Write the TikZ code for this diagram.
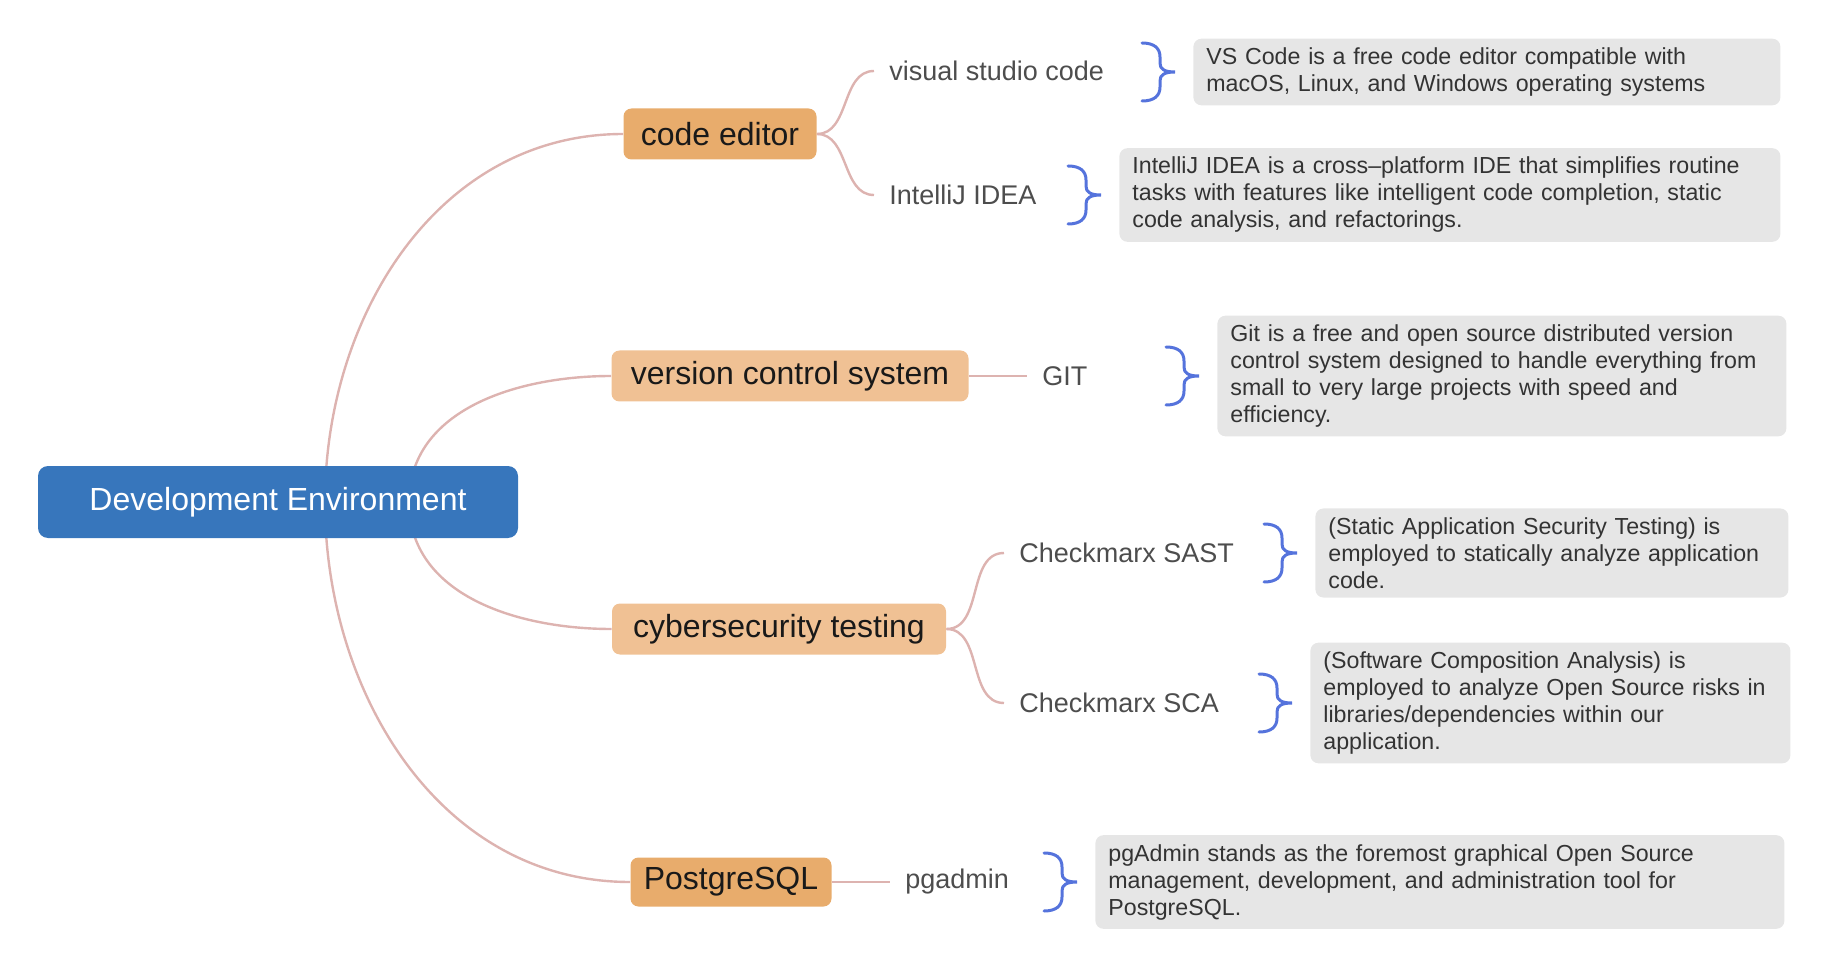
\documentclass[tikz,border=0pt]{standalone}
\usepackage{fontspec}
\setmainfont{Liberation Sans}
\usetikzlibrary{positioning,backgrounds}

\definecolor{rootblue}{HTML}{3776BC}
\definecolor{darkorange}{HTML}{E8AC6C}
\definecolor{lightorange}{HTML}{F0C194}
\definecolor{linkpink}{HTML}{DDB3B0}
\definecolor{curlyblue}{HTML}{5573DC}
\definecolor{notegray}{HTML}{E6E6E6}
\definecolor{leafgray}{HTML}{4D4D4D}

\begin{document}
\begin{tikzpicture}[x=0.5pt,y=-0.5pt]
  \tikzstyle{root}=[fill=rootblue,text=white,rounded corners=5pt,minimum width=240pt,minimum height=36pt,font=\fontsize{16}{19}\selectfont]
  \tikzstyle{topic}=[rounded corners=4pt,minimum height=25.5pt,text=black!90,font=\fontsize{16}{19}\selectfont]
  \tikzstyle{leaf}=[anchor=west,inner xsep=7.5pt,text=leafgray,font=\fontsize{13.5}{16}\selectfont]
  \tikzstyle{note}=[anchor=west,fill=notegray,rounded corners=4pt,align=left,inner xsep=6.5pt,inner ysep=4.5pt,text=black!80,font=\fontsize{11.6}{13.5}\selectfont]
  \tikzstyle{link}=[draw=linkpink,line width=1.2pt]
  \tikzset{curly/.pic={\draw[curlyblue,line width=1.5pt,line cap=round]
    (0,-29) .. controls (12,-29) and (18,-24) .. (18,-15) -- (18,-9)
    .. controls (18,-3) and (22,0) .. (33,0)
    .. controls (22,0) and (18,3) .. (18,9) -- (18,15)
    .. controls (18,24) and (12,29) .. (0,29);}}
\useasboundingbox (0,0) rectangle (1822,968);
\node[root] (dev) at (278,502) {Development Environment};
\node[topic,fill=darkorange,minimum width=96.5pt] (editor) at (720,134) {code editor};
\node[topic,fill=lightorange,minimum width=178.5pt] (vcs) at (790,376) {version control system};
\node[topic,fill=lightorange,minimum width=167pt] (cyber) at (779,629) {cybersecurity testing};
\node[topic,fill=darkorange,minimum width=100.5pt,minimum height=24.5pt] (pg) at (731,882) {PostgreSQL};
\node[leaf] (vsc) at (874,71) {visual studio code};
\node[leaf] (idea) at (874,195) {IntelliJ IDEA};
\node[leaf,right=29pt of vcs] (git) {GIT};
\node[leaf] (sast) at (1004,553) {Checkmarx SAST};
\node[leaf] (sca) at (1004,703) {Checkmarx SCA};
\node[leaf,right=29pt of pg] (pgadmin) {pgadmin};
\node[note,text width=280.5pt] (vscnote) at (1193,72) {VS Code is a free code editor compatible with\\macOS, Linux, and Windows operating systems};
\node[note,text width=317.5pt] (ideanote) at (1119,195) {IntelliJ IDEA is a cross--platform IDE that simplifies routine\\tasks with features like intelligent code completion, static\\code analysis, and refactorings.};
\node[note,text width=271.5pt] (gitnote) at (1217,376) {Git is a free and open source distributed version\\control system designed to handle everything from\\small to very large projects with speed and\\efficiency.};
\node[note,text width=223.5pt] (sastnote) at (1315,553) {(Static Application Security Testing) is\\employed to statically analyze application\\code.};
\node[note,text width=227pt] (scanote) at (1310,703) {(Software Composition Analysis) is\\employed to analyze Open Source risks in\\libraries/dependencies within our\\application.};
\node[note,text width=331.5pt] (pgnote) at (1095,882) {pgAdmin stands as the foremost graphical Open Source\\management, development, and administration tool for\\PostgreSQL.};
\begin{scope}[on background layer]
\path
([shift={(47,0)}]dev.center) edge[link,out=90,in=180] (editor.west)
([shift={(131,0)}]dev.center) edge[link,out=90,in=180] (vcs.west)
([shift={(131,0)}]dev.center) edge[link,out=-90,in=180] (cyber.west)
([shift={(47,0)}]dev.center) edge[link,out=-90,in=180] (pg.west)
(editor.east) edge[link,out=0,in=180] (vsc.west)
(editor.east) edge[link,out=0,in=180] (idea.west)
(vcs.east) edge[link] (git.west)
(cyber.east) edge[link,out=0,in=180] (sast.west)
(cyber.east) edge[link,out=0,in=180] (sca.west)
(pg.east) edge[link] (pgadmin.west);
\end{scope}
\pic at ([shift={(-51,0)}]vscnote.west) {curly};
\pic at ([shift={(-51,0)}]ideanote.west) {curly};
\pic at ([shift={(-51,0)}]gitnote.west) {curly};
\pic at ([shift={(-51,0)}]sastnote.west) {curly};
\pic at ([shift={(-51,0)}]scanote.west) {curly};
\pic at ([shift={(-51,0)}]pgnote.west) {curly};
\end{tikzpicture}
\end{document}
